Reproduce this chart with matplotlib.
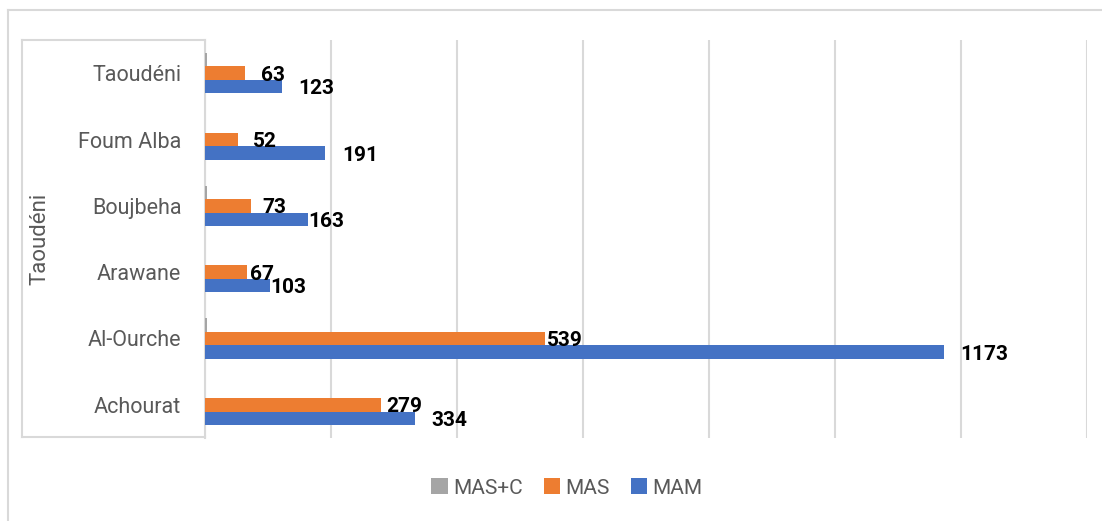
"""
Horizontal grouped bars: MAM / MAS / MAS+C per site, Taoudéni region.
"""

import matplotlib.pyplot as plt
from matplotlib.lines import Line2D

# data (bottom to top, as drawn)
categories = ['Achourat', 'Al-Ourche', 'Arawane', 'Boujbeha', 'Foum Alba', 'Taoudéni']
mam = [334, 1173, 103, 163, 191, 123]
mas = [279, 539, 67, 73, 52, 63]
mas_c = [0, 3, 0, 3, 0, 3]
group_label = 'Taoudéni'

# label nudges in pixels (labels were moved by hand in the original)
mam_dx = [16, 16, 0, 1, 17, 16]
mas_dx = [5, 2, 3, 11, 15, 16]

# style
W, H = 1102, 521
BLUE = '#4472C4'
ORANGE = '#ED7D31'
GRAY = '#A5A5A5'
LINE = '#d9d9d9'
TEXT = '#595959'
BAR_H = 0.204

plt.rcParams['font.family'] = ['Roboto', 'DejaVu Sans']

fig = plt.figure(figsize=(W / 100, H / 100), dpi=100)
ax = fig.add_axes([205 / W, 1 - 438 / H, (1087 - 205) / W, (438 - 40) / H])

y = list(range(len(categories)))
ax.barh([v - BAR_H for v in y], mam, height=BAR_H, color=BLUE, label='MAM', zorder=3)
ax.barh(y, mas, height=BAR_H, color=ORANGE, label='MAS', zorder=3)
ax.barh([v + BAR_H for v in y], mas_c, height=BAR_H, color=GRAY, label='MAS+C', zorder=3)

# data labels
for i in y:
    ax.annotate(str(mam[i]), (mam[i], i - BAR_H), xytext=(mam_dx[i], -2),
                textcoords='offset pixels', ha='left', va='center',
                fontsize=15, fontweight='bold', color='black', zorder=4)
    ax.annotate(str(mas[i]), (mas[i], i), xytext=(mas_dx[i], -2),
                textcoords='offset pixels', ha='left', va='center',
                fontsize=15, fontweight='bold', color='black', zorder=4)

ax.set_xlim(0, 1400)
ax.set_ylim(-0.5, len(categories) - 0.5)
ax.set_xticks(range(0, 1401, 200))
ax.set_xticklabels([])
ax.tick_params(axis='x', length=0)
ax.grid(axis='x', color=LINE, linewidth=1.5, zorder=0)
ax.set_yticks(y)
ax.set_yticklabels(categories, fontsize=15.5, color=TEXT)
ax.tick_params(axis='y', length=0, pad=17)

for s in ['top', 'right', 'bottom']:
    ax.spines[s].set_visible(False)
ax.spines['left'].set_color(LINE)
ax.spines['left'].set_linewidth(1.5)

# multi-level category bracket
def fx(px):
    return px / W


def fy(py):
    return 1 - py / H


for xs, ys in [([22, 22], [40, 437]), ([22, 205], [40, 40]), ([22, 205], [437, 437])]:
    fig.add_artist(Line2D([fx(v) for v in xs], [fy(v) for v in ys], color=LINE, linewidth=1.5))
fig.text(fx(40), fy(239), group_label, rotation=90, ha='center', va='center',
         fontsize=16, color=TEXT)

# chart frame (cropped on the right and bottom)
fig.add_artist(Line2D([fx(8), fx(8)], [fy(10), fy(530)], color=LINE, linewidth=1.5))
fig.add_artist(Line2D([fx(8), fx(1110)], [fy(10), fy(10)], color=LINE, linewidth=1.5))

# legend
handles, labels = ax.get_legend_handles_labels()
fig.legend(handles[::-1], labels[::-1], loc='center', bbox_to_anchor=(fx(567), fy(488)),
           ncol=3, frameon=False, fontsize=15, labelcolor=TEXT,
           handlelength=0.8, handleheight=0.8, handletextpad=0.25, columnspacing=1.0)

fig.savefig('out.png', dpi=100)
